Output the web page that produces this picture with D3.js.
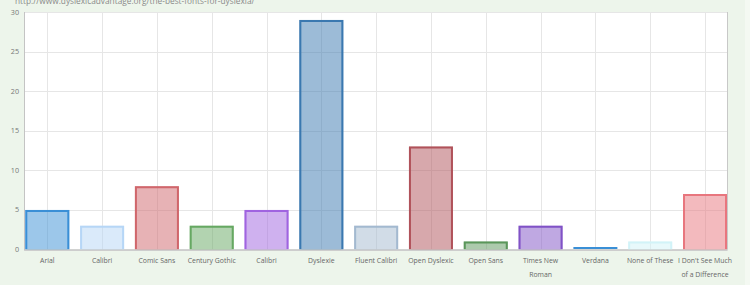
<!DOCTYPE html>
<html><head><meta charset="utf-8">
<script src="https://cdn.jsdelivr.net/npm/d3@7"></script>
<style>
html,body{margin:0;padding:0;background:#edf5eb;}
svg{display:block;}
</style></head>
<body>
<svg id="c" width="750" height="285"></svg>
<script>
const categories = ["Arial","Calibri","Comic Sans","Century Gothic","Calibri","Dyslexie","Fluent Calibri","Open Dyslexic","Open Sans","Times New Roman","Verdana","None of These","I Don't See Much of a Difference"];
const labelLines = [["Arial"],["Calibri"],["Comic Sans"],["Century Gothic"],["Calibri"],["Dyslexie"],["Fluent Calibri"],["Open Dyslexic"],["Open Sans"],["Times New","Roman"],["Verdana"],["None of These"],["I Don't See Much","of a Difference"]];
const values = [5,3,8,3,5,29,3,13,1,3,0,1,7];
const strokeColors = ["#3a8fd6","#b6d6f6","#d0666b","#66a862","#a064e0","#3a78b0","#a3b9d0","#b0525a","#5a965a","#8052c6","#3a8fd6","#d2f3f8","#e8767e"];
const yTicks = [0,5,10,15,20,25,30];
const sourceText = "http://www.dyslexicadvantage.org/the-best-fonts-for-dyslexia/";

(function(){
const svg = d3.select("#c");
const W = 750, H = 285;
svg.append("rect").attr("x",745).attr("y",0).attr("width",5).attr("height",H).attr("fill","#f4f9f2");

const pL = 24.5, pR = 727.5, pT = 12, pB = 249.5;
const x = d3.scalePoint().domain(d3.range(categories.length)).range([47.3, 705]);
const y = d3.scaleLinear().domain([0,30]).range([pB, pT]);
const bw = 44;

svg.append("rect").attr("x",pL).attr("y",pT).attr("width",pR-pL).attr("height",pB-pT).attr("fill","#ffffff");

svg.append("g").selectAll("line").data(yTicks).join("line")
  .attr("x1",pL).attr("x2",pR).attr("y1",d=>Math.round(y(d))+0.5).attr("y2",d=>Math.round(y(d))+0.5)
  .attr("stroke","#e6e6e6").attr("stroke-width",1);
svg.append("g").selectAll("line").data(d3.range(categories.length)).join("line")
  .attr("x1",d=>Math.round(x(d))+0.5).attr("x2",d=>Math.round(x(d))+0.5).attr("y1",pT).attr("y2",pB)
  .attr("stroke","#e6e6e6").attr("stroke-width",1);

svg.append("line").attr("x1",pL).attr("x2",pL).attr("y1",pT).attr("y2",pB+1).attr("stroke","#c4c4c4").attr("stroke-width",1);
svg.append("line").attr("x1",pL).attr("x2",pR).attr("y1",pB+0.5).attr("y2",pB+0.5).attr("stroke","#c4c4c4").attr("stroke-width",1.5);
svg.append("line").attr("x1",pR).attr("x2",pR).attr("y1",pT).attr("y2",pB).attr("stroke","#c8c8c8").attr("stroke-width",1);

const bars = svg.append("g");
bars.selectAll("rect").data(values).join("rect")
  .attr("x",(d,i)=>x(i)-bw/2).attr("width",bw)
  .attr("y",d=>y(d)).attr("height",d=>y(0)-y(d))
  .attr("fill",(d,i)=>strokeColors[i]).attr("fill-opacity",0.5);
bars.selectAll("path").data(values).join("path")
  .attr("d",(d,i)=>{const x0=x(i)-bw/2+1, x1=x(i)+bw/2-1, yb=y(0)-0.5, yt=Math.min(y(d)+1, yb-1);
     return `M${x0},${yb}V${yt}H${x1}V${yb}`;})
  .attr("fill","none").attr("stroke",(d,i)=>strokeColors[i]).attr("stroke-width",2);

svg.append("g").selectAll("text").data(yTicks).join("text")
  .attr("x",19).attr("y",d=>y(d)).attr("dy","0.35em").attr("text-anchor","end")
  .attr("font-family","Open Sans").attr("font-size",7.2).attr("fill","#777")
  .text(d=>d);

const xl = svg.append("g").selectAll("text").data(labelLines).join("text")
  .attr("x",(d,i)=>x(i)).attr("y",263).attr("text-anchor","middle")
  .attr("font-family","Open Sans").attr("font-size",6.9).attr("fill","#666");
xl.selectAll("tspan").data(d=>d).join("tspan")
  .attr("x",function(){return this.parentNode.getAttribute("x");})
  .attr("dy",(d,i)=>i===0?0:13.5).text(d=>d);

svg.append("text").attr("x",15).attr("y",3.5).attr("font-family","Open Sans").attr("font-size",8.3).attr("fill","#8a8a8a").text(sourceText);
})();
</script>
</body></html>
